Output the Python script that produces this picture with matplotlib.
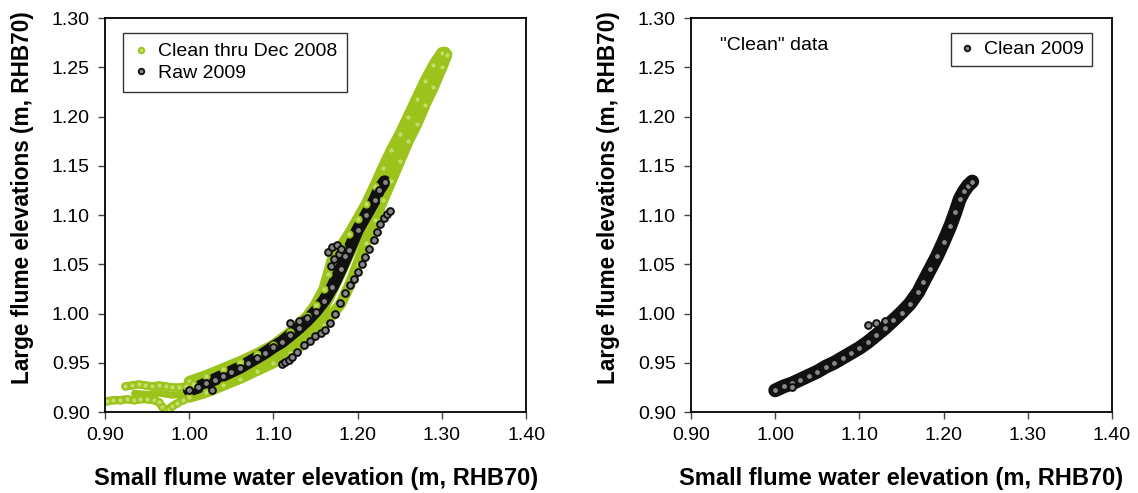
import matplotlib
matplotlib.use("Agg")
import matplotlib.pyplot as plt
from matplotlib.lines import Line2D

plt.rcParams['font.family'] = ['Liberation Sans', 'DejaVu Sans']

# ---- Clean thru Dec 2008 (green) ----
green_low_x = [0.902, 0.910, 0.918, 0.926, 0.934, 0.942, 0.950, 0.958, 0.964, 0.968, 0.972, 0.976, 0.980, 0.986, 0.992, 1.000]
green_low_y = [0.911, 0.912, 0.912, 0.913, 0.912, 0.913, 0.913, 0.912, 0.910, 0.905, 0.902, 0.903, 0.906, 0.909, 0.912, 0.915]
green_arm_x = [0.924, 0.932, 0.940, 0.948, 0.956, 0.964, 0.972, 0.980, 0.988, 0.996, 1.004]
green_arm_y = [0.926, 0.927, 0.928, 0.927, 0.926, 0.927, 0.926, 0.925, 0.925, 0.926, 0.928]
green_mid_x = [0.935, 0.950, 0.965, 0.980, 0.990, 1.000]
green_mid_y = [0.919, 0.918, 0.919, 0.917, 0.918, 0.921]
green_top_x = [1.000, 1.020, 1.040, 1.060, 1.080, 1.100, 1.120, 1.140, 1.150, 1.160, 1.165, 1.170, 1.180,
               1.190, 1.200, 1.210, 1.220, 1.230, 1.240, 1.250, 1.260, 1.270, 1.280, 1.290, 1.300]
green_top_y = [0.931, 0.937, 0.944, 0.951, 0.959, 0.968, 0.981, 0.997, 1.009, 1.025, 1.040, 1.055, 1.068,
               1.081, 1.096, 1.111, 1.129, 1.148, 1.166, 1.182, 1.200, 1.218, 1.236, 1.252, 1.265]
green_ctr_x = [1.000, 1.020, 1.040, 1.060, 1.080, 1.100, 1.120, 1.140, 1.155, 1.165, 1.175, 1.185,
               1.195, 1.205, 1.215, 1.225, 1.235, 1.245, 1.255, 1.265, 1.275, 1.285, 1.295, 1.303]
green_ctr_y = [0.923, 0.929, 0.936, 0.943, 0.951, 0.959, 0.970, 0.985, 1.000, 1.018, 1.036, 1.055,
               1.073, 1.092, 1.111, 1.130, 1.150, 1.168, 1.186, 1.204, 1.223, 1.240, 1.256, 1.264]
green_bot_x = [1.000, 1.020, 1.040, 1.060, 1.080, 1.100, 1.120, 1.140, 1.160, 1.180, 1.190, 1.200,
               1.210, 1.220, 1.230, 1.240, 1.250, 1.260, 1.270, 1.280, 1.290, 1.300, 1.306]
green_bot_y = [0.915, 0.920, 0.927, 0.934, 0.942, 0.950, 0.960, 0.972, 0.988, 1.010, 1.028, 1.050,
               1.072, 1.095, 1.115, 1.135, 1.155, 1.175, 1.192, 1.212, 1.230, 1.250, 1.263]

# ---- Raw 2009 (black) ----
raw_x = [1.000, 1.010, 1.020, 1.030, 1.040, 1.050, 1.060, 1.070, 1.080, 1.090, 1.100, 1.110, 1.120,
         1.130, 1.140, 1.150, 1.160, 1.170, 1.180, 1.190, 1.200, 1.210, 1.220, 1.225, 1.232]
raw_y = [0.922, 0.925, 0.929, 0.933, 0.937, 0.941, 0.945, 0.950, 0.955, 0.960, 0.966, 0.971, 0.978,
         0.985, 0.993, 1.002, 1.013, 1.027, 1.045, 1.065, 1.085, 1.100, 1.115, 1.125, 1.134]
raw_blob_x = [1.027, 1.120, 1.130, 1.140, 1.165, 1.168, 1.170, 1.172, 1.175, 1.178, 1.180, 1.185]
raw_blob_y = [0.922, 0.990, 0.992, 0.995, 1.062, 1.048, 1.068, 1.055, 1.070, 1.060, 1.066, 1.058]
raw_dot_x = [1.110, 1.114, 1.118, 1.122, 1.128, 1.136, 1.143, 1.149, 1.156, 1.161, 1.167, 1.173, 1.179,
             1.185, 1.191, 1.196, 1.200, 1.205, 1.209, 1.214, 1.219, 1.223, 1.227, 1.231, 1.235, 1.238]
raw_dot_y = [0.949, 0.951, 0.953, 0.956, 0.961, 0.968, 0.972, 0.977, 0.980, 0.983, 0.990, 1.000, 1.011,
             1.021, 1.029, 1.035, 1.042, 1.050, 1.057, 1.066, 1.075, 1.083, 1.091, 1.097, 1.101, 1.104]

# ---- Clean 2009 (right panel) ----
c09_x = [1.000, 1.010, 1.020, 1.030, 1.040, 1.050, 1.060, 1.070, 1.080, 1.090, 1.100, 1.110, 1.120, 1.130,
         1.140, 1.150, 1.160, 1.170, 1.176, 1.184, 1.192, 1.200, 1.208, 1.214, 1.219, 1.224, 1.229, 1.234]
c09_y = [0.922, 0.926, 0.929, 0.933, 0.937, 0.941, 0.946, 0.950, 0.955, 0.960, 0.965, 0.971, 0.978, 0.985,
         0.993, 1.001, 1.010, 1.022, 1.032, 1.045, 1.058, 1.073, 1.089, 1.103, 1.116, 1.124, 1.130, 1.134]
c09_blob_x = [1.020, 1.110, 1.120, 1.130, 1.140]
c09_blob_y = [0.925, 0.988, 0.990, 0.992, 0.993]

x_ticks = [0.90, 1.00, 1.10, 1.20, 1.30, 1.40]
y_ticks = [0.90, 0.95, 1.00, 1.05, 1.10, 1.15, 1.20, 1.25, 1.30]

GREEN_EDGE = '#9bc31c'
GREEN_FACE = '#c4de6a'
BLACK_EDGE = '#111111'
BLACK_FACE = '#888888'


def band(ax, x, y, edge, lw):
    # dense runs of points drawn as a solid stroke through the read-off points
    ax.plot(x, y, color=edge, lw=lw, solid_capstyle='round', solid_joinstyle='round', zorder=2)


def dots(ax, x, y, face, edge, s=24, z=3):
    ax.scatter(x, y, s=s, facecolor=face, edgecolor=edge, linewidth=1.4, zorder=z)


def style(ax):
    ax.set_xlim(0.90, 1.40)
    ax.set_ylim(0.90, 1.30)
    ax.set_xticks(x_ticks)
    ax.set_yticks(y_ticks)
    ax.set_xticklabels(['%.2f' % v for v in x_ticks])
    ax.set_yticklabels(['%.2f' % v for v in y_ticks])
    ax.tick_params(direction='out', length=5, width=1, labelsize=14, color='#444444', pad=6)
    for sp in ax.spines.values():
        sp.set_linewidth(1.3)
    ax.set_xlabel('Small flume water elevation (m, RHB70)', fontsize=17, fontweight='bold', labelpad=16)
    ax.set_ylabel('Large flume elevations (m, RHB70)', fontsize=16.3, fontweight='bold')
    ax.yaxis.set_label_coords(-0.168, 0.543)


fig = plt.figure(figsize=(11.38, 4.93), dpi=100)
ax1 = fig.add_axes([0.0923, 0.1643, 0.370, 0.799])
ax2 = fig.add_axes([0.6072, 0.1643, 0.370, 0.799])

# left panel
band(ax1, green_low_x, green_low_y, GREEN_EDGE, 6)
band(ax1, green_arm_x, green_arm_y, GREEN_EDGE, 6)
band(ax1, green_mid_x, green_mid_y, GREEN_EDGE, 5)
band(ax1, green_top_x, green_top_y, GREEN_EDGE, 8)
band(ax1, green_ctr_x, green_ctr_y, GREEN_EDGE, 10)
band(ax1, green_bot_x, green_bot_y, GREEN_EDGE, 8)
dots(ax1, green_top_x + green_bot_x + green_low_x + green_arm_x,
     green_top_y + green_bot_y + green_low_y + green_arm_y, GREEN_FACE, GREEN_EDGE, s=20, z=2.5)
band(ax1, raw_x, raw_y, BLACK_EDGE, 9)
dots(ax1, raw_x + raw_blob_x, raw_y + raw_blob_y, BLACK_FACE, BLACK_EDGE)
dots(ax1, raw_dot_x, raw_dot_y, BLACK_FACE, BLACK_EDGE)
style(ax1)

h1 = [Line2D([], [], ls='none', marker='o', ms=4, mfc=GREEN_FACE, mec=GREEN_EDGE, mew=1.3),
      Line2D([], [], ls='none', marker='o', ms=4, mfc=BLACK_FACE, mec=BLACK_EDGE, mew=1.3)]
leg1 = ax1.legend(h1, ['Clean thru Dec 2008', 'Raw 2009'], loc='upper left', bbox_to_anchor=(0.043, 0.962),
                  fontsize=14, frameon=True, fancybox=False, handlelength=0.8, handletextpad=0.5,
                  borderpad=0.5, labelspacing=0.2, borderaxespad=0)
leg1.get_frame().set_edgecolor('black')
leg1.get_frame().set_linewidth(1)

# right panel
band(ax2, c09_x, c09_y, BLACK_EDGE, 10)
dots(ax2, c09_x + c09_blob_x, c09_y + c09_blob_y, BLACK_FACE, BLACK_EDGE)
style(ax2)
ax2.text(0.07, 0.93, '"Clean" data', transform=ax2.transAxes, fontsize=14, va='center', ha='left')
h2 = [Line2D([], [], ls='none', marker='o', ms=4, mfc=BLACK_FACE, mec=BLACK_EDGE, mew=1.3)]
leg2 = ax2.legend(h2, ['Clean 2009'], loc='upper right', bbox_to_anchor=(0.952, 0.962),
                  fontsize=14, frameon=True, fancybox=False, handlelength=0.8, handletextpad=0.5,
                  borderpad=0.4, borderaxespad=0)
leg2.get_frame().set_edgecolor('black')
leg2.get_frame().set_linewidth(1)

fig.savefig('out.png', dpi=100)
